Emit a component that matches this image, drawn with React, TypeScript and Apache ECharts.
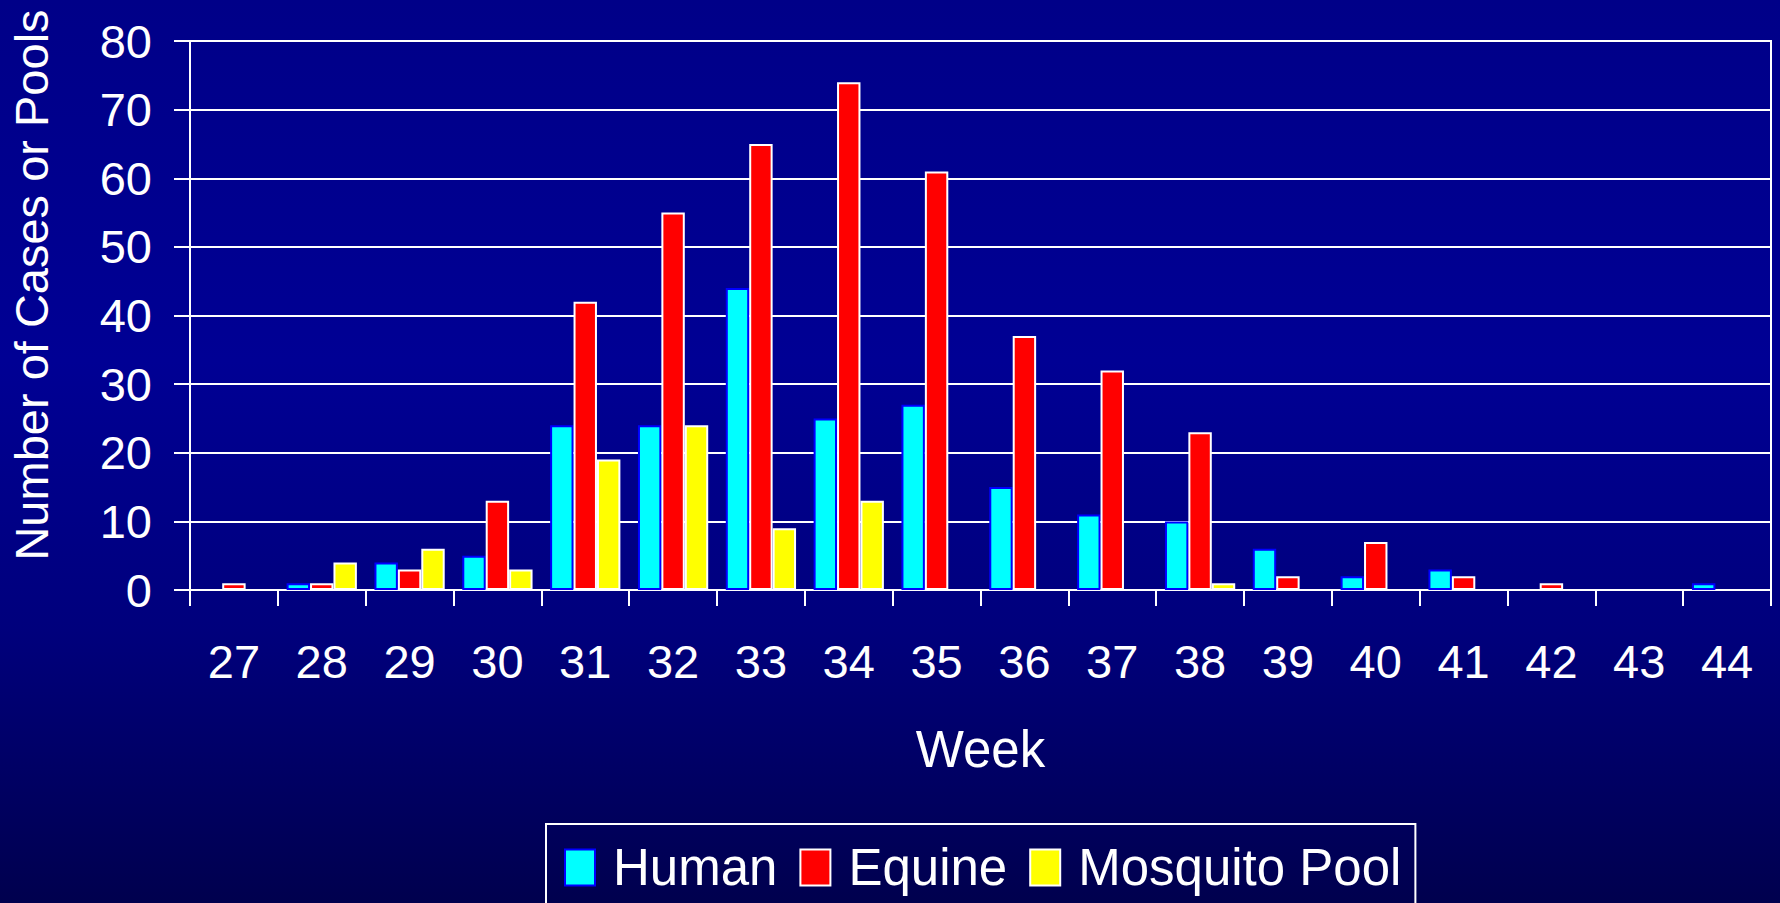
import React, { useEffect, useRef } from "react";
import * as echarts from "echarts";

const weeks = ["27", "28", "29", "30", "31", "32", "33", "34", "35", "36", "37", "38", "39", "40", "41", "42", "43", "44"];
const human = [0, 1, 4, 5, 24, 24, 44, 25, 27, 15, 11, 10, 6, 2, 3, 0, 0, 1];
const equine = [1, 1, 3, 13, 42, 55, 65, 74, 61, 37, 32, 23, 2, 7, 2, 1, 0, 0];
const mosquito = [0, 4, 6, 3, 19, 24, 9, 13, 0, 0, 0, 1, 0, 0, 0, 0, 0, 0];
const yTicks = [0, 10, 20, 30, 40, 50, 60, 70, 80];

const FONT = '"Liberation Sans", Arial, sans-serif';

export default function App() {
  const ref = useRef<HTMLDivElement>(null);
  useEffect(() => {
    if (!ref.current) return;
    const chart = echarts.init(ref.current, null, { renderer: "svg" });
    const nz = (arr: number[]) => arr.map((v) => (v === 0 ? null : v));
    chart.setOption({
      animation: false,
      backgroundColor: {
        type: "linear",
        x: 0,
        y: 0,
        x2: 0,
        y2: 1,
        colorStops: [
          { offset: 0, color: "#000088" },
          { offset: 0.4, color: "#000094" },
          { offset: 0.7, color: "#00007c" },
          { offset: 1, color: "#00004e" },
        ],
      },
      textStyle: { fontFamily: FONT, color: "#fff" },
      grid: {
        left: 190,
        right: 9,
        top: 41,
        bottom: 313,
        show: true,
        borderColor: "#ffffff",
        borderWidth: 2,
        backgroundColor: "transparent",
      },
      legend: {
        left: 546,
        top: 824,
        padding: [18, 14, 18, 18],
        icon: "rect",
        itemWidth: 30,
        itemHeight: 36,
        itemGap: 22,
        borderColor: "#ffffff",
        borderWidth: 2,
        textStyle: { color: "#fff", fontSize: 51, fontFamily: FONT, padding: [0, 0, 0, 13] },
        data: ["Human", "Equine", "Mosquito Pool"],
      },
      graphic: [
        {
          type: "text",
          x: 31,
          y: 285,
          rotation: Math.PI / 2,
          style: {
            text: "Number of Cases or Pools",
            fill: "#ffffff",
            fontSize: 47,
            fontFamily: FONT,
            align: "center",
            verticalAlign: "middle",
          },
        },
      ],
      xAxis: {
        type: "category",
        data: weeks,
        name: "Week",
        nameLocation: "middle",
        nameGap: 134,
        nameTextStyle: { color: "#fff", fontSize: 51, fontFamily: FONT },
        axisLine: { lineStyle: { color: "#fff", width: 2 } },
        axisTick: { show: true, length: 16, lineStyle: { color: "#fff", width: 2 } },
        axisLabel: { color: "#fff", fontSize: 47, fontFamily: FONT, margin: 48 },
      },
      yAxis: {
        type: "value",
        min: yTicks[0],
        max: yTicks[yTicks.length - 1],
        interval: 10,
        axisLine: { show: true, lineStyle: { color: "#fff", width: 2 } },
        axisTick: { show: true, length: 16, lineStyle: { color: "#fff", width: 2 } },
        axisLabel: { color: "#fff", fontSize: 47, fontFamily: FONT, margin: 38 },
        splitLine: { show: true, lineStyle: { color: "#fff", width: 2 } },
      },
      series: [
        {
          name: "Human",
          type: "bar",
          data: nz(human),
          barGap: "0%",
          barCategoryGap: "20%",
          itemStyle: { color: "#00ffff", borderColor: "#0000ff", borderWidth: 2 },
        },
        {
          name: "Equine",
          type: "bar",
          data: nz(equine),
          barGap: "0%",
          barCategoryGap: "20%",
          itemStyle: { color: "#ff0000", borderColor: "#ffffff", borderWidth: 2 },
        },
        {
          name: "Mosquito Pool",
          type: "bar",
          data: nz(mosquito),
          barGap: "0%",
          barCategoryGap: "20%",
          itemStyle: { color: "#ffff00", borderColor: "#ffffff", borderWidth: 2 },
        },
      ],
    });
    return () => chart.dispose();
  }, []);
  return (
    <div
      ref={ref}
      style={{ position: "absolute", left: 0, top: 0, width: 1780, height: 903 }}
    />
  );
}
